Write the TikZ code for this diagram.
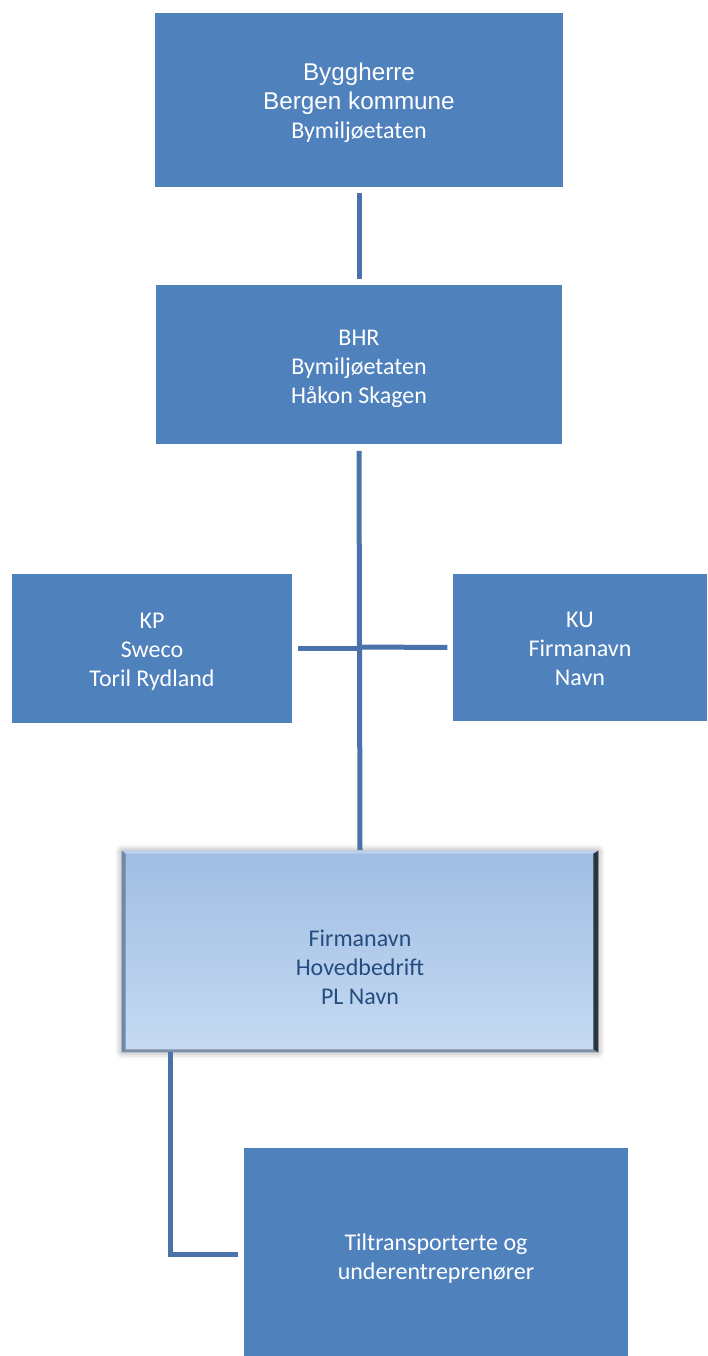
\documentclass[tikz,border=0pt]{standalone}
\usepackage{fontspec}
\setmainfont{Carlito}
\newfontfamily\arialf{Liberation Sans}
\usetikzlibrary{calc,shadows.blur}
\definecolor{boxblue}{HTML}{4F81BD}
\definecolor{lineblue}{HTML}{4A73AB}
\definecolor{gradtop}{HTML}{9FBDE3}
\definecolor{gradbot}{HTML}{C6DAF2}
\definecolor{darktext}{HTML}{254C80}
\definecolor{bevleft}{HTML}{6F89A8}
\definecolor{bevtop}{HTML}{BBD2EE}
\definecolor{bevright}{HTML}{2B3541}
\definecolor{bevbot}{HTML}{7F90A5}
\begin{document}
\begin{tikzpicture}[x=0.75pt,y=-0.75pt,
  orgbox/.style={rectangle,fill=boxblue,inner sep=0pt},
  boxtext/.style={text=white,align=center,inner sep=0pt,
    font=\fontsize{18}{21.75}\selectfont},
  conn/.style={draw=lineblue,line width=3.75pt}]
\useasboundingbox (0,0) rectangle (707,1356);
% boxes
\node[orgbox,minimum width=306pt,minimum height=130.5pt] (top) at (359,100) {};
\node[orgbox,minimum width=304.5pt,minimum height=119.25pt] (bhr) at (359,364.5) {};
\node[orgbox,minimum width=210pt,minimum height=111.75pt] (kp) at (152,648.5) {};
\node[orgbox,minimum width=190.5pt,minimum height=110.25pt] (ku) at (580,647.5) {};
\node[rectangle,minimum width=357pt,minimum height=150.75pt,inner sep=0pt,
  top color=gradtop,bottom color=gradbot,
  blur shadow={shadow xshift=0pt,shadow yshift=0pt,shadow blur radius=5pt,shadow opacity=45}] (firma) at (360,951.5) {};
\node[orgbox,minimum width=288pt,minimum height=156pt] (bot) at (436,1252) {};
% bevel effect
\fill[bevtop] (firma.north west) -- (firma.north east) -- ($(firma.north east)+(-5,3)$) -- ($(firma.north west)+(4,3)$) -- cycle;
\fill[bevleft] (firma.north west) -- ($(firma.north west)+(4,3)$) -- ($(firma.south west)+(4,-3)$) -- (firma.south west) -- cycle;
\fill[bevbot] (firma.south west) -- ($(firma.south west)+(4,-3)$) -- ($(firma.south east)+(-5,-3)$) -- (firma.south east) -- cycle;
\fill[bevright] (firma.north east) -- ($(firma.north east)+(-5,3)$) -- ($(firma.south east)+(-5,-3)$) -- (firma.south east) -- cycle;
% texts
\node[boxtext] (topT) at ($(top.center)+(0,3)$)
  {\arialf\fontsize{18.2}{20.5}\selectfont Byggherre\\\arialf\fontsize{18.2}{20.5}\selectfont Bergen kommune\\\fontsize{18}{22.5}\selectfont Bymiljøetaten};
\node[boxtext] (bhrT) at ($(bhr.center)+(0,4)$) {BHR\\Bymiljøetaten\\Håkon Skagen};
\node[boxtext] (kpT) at ($(kp.center)+(0,3.5)$) {KP\\Sweco\\Toril Rydland};
\node[boxtext] (kuT) at ($(ku.center)+(0,1)$) {KU\\Firmanavn\\Navn};
\node[boxtext,text=darktext] (firmaT) at ($(firma.center)+(0,16)$) {Firmanavn\\Hovedbedrift\\PL Navn};
\node[boxtext] (botT) at ($(bot.center)+(0,7)$) {Tiltransporterte og\\underentreprenører};
% connectors
\draw[conn,shorten <=4.5pt,shorten >=4pt] (top.south) -- (bhr.north);
\draw[conn,shorten <=5pt,shorten >=0.5pt] (bhr.south) -- (firma.north);
\coordinate (cl) at (bhr.south |- kp.east);
\coordinate (cr) at ($(bhr.south |- ku.west)+(0,-0.5)$);
\draw[conn,shorten <=4.5pt] (kp.east) -- (cl);
\draw[conn,shorten >=4pt] (cr) -- (ku.west);
\coordinate (e) at (170,1254);
\draw[conn,shorten >=4.5pt] (firma.south -| e) -- (e) -- (e -| bot.west);
\end{tikzpicture}
\end{document}
